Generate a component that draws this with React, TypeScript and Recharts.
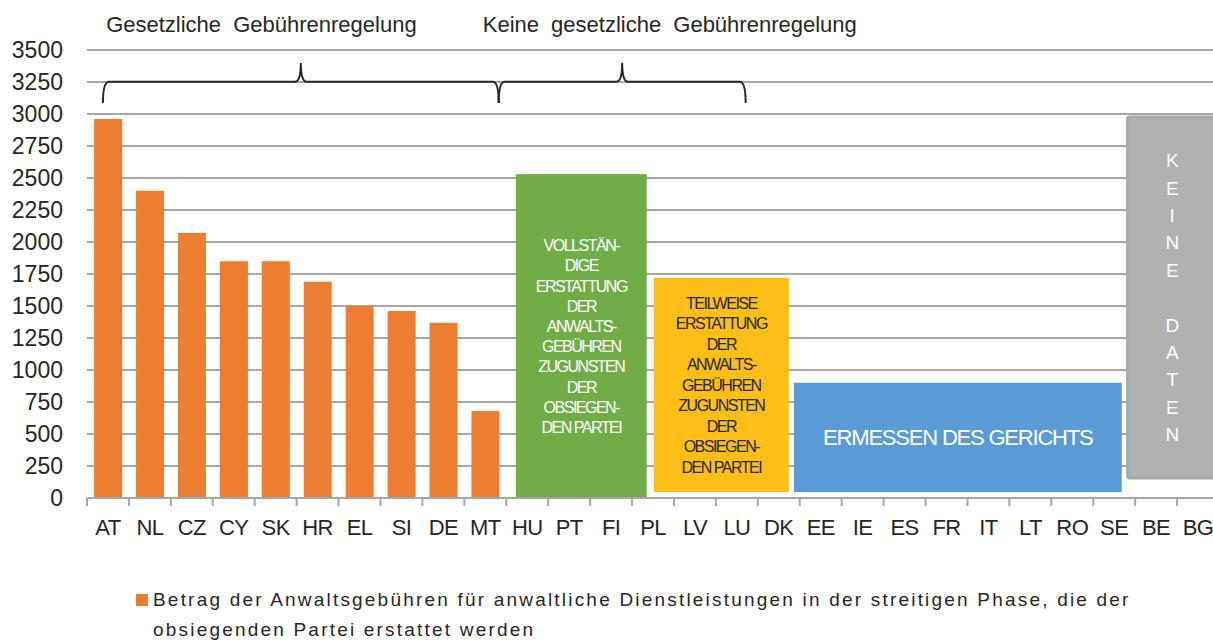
import React from 'react'
import {
  BarChart,
  Bar,
  XAxis,
  YAxis,
  CartesianGrid,
  ReferenceArea,
  Legend,
} from 'recharts'

const COUNTRIES = [
  'AT', 'NL', 'CZ', 'CY', 'SK', 'HR', 'EL', 'SI', 'DE', 'MT',
  'HU', 'PT', 'FI', 'PL', 'LV', 'LU', 'DK', 'EE', 'IE', 'ES',
  'FR', 'IT', 'LT', 'RO', 'SE', 'BE', 'BG',
]

// only the countries with a statutory fee scale have a value
const FEES = [2960, 2400, 2070, 1850, 1850, 1690, 1500, 1460, 1370, 680]

const Y_TICKS = [0, 250, 500, 750, 1000, 1250, 1500, 1750, 2000, 2250, 2500, 2750, 3000, 3250, 3500]

const LEGEND_LINES = [
  'Betrag der Anwaltsgebühren für anwaltliche Dienstleistungen in der streitigen Phase, die der',
  'obsiegenden Partei erstattet werden',
]

const GROUP_TITLES = ['Gesetzliche Gebührenregelung', 'Keine gesetzliche Gebührenregelung']

const GREEN_TEXT = ['VOLLSTÄN-', 'DIGE', 'ERSTATTUNG', 'DER', 'ANWALTS-', 'GEBÜHREN', 'ZUGUNSTEN', 'DER', 'OBSIEGEN-', 'DEN PARTEI']
const YELLOW_TEXT = ['TEILWEISE', 'ERSTATTUNG', 'DER', 'ANWALTS-', 'GEBÜHREN', 'ZUGUNSTEN', 'DER', 'OBSIEGEN-', 'DEN PARTEI']
const BLUE_TEXT = ['ERMESSEN DES GERICHTS']
const GRAY_TEXT = ['K', 'E', 'I', 'N', 'E', '', 'D', 'A', 'T', 'E', 'N']

const rows = COUNTRIES.map((country, i) => ({ country, fee: FEES[i] ?? null }))

const FONT = '"Liberation Sans", Arial, sans-serif'
const ORANGE = '#ed7d31'
const GRID = '#a6a6a6'
const INK = '#262626'

// the helper axis runs over the country index (0..n-1) across the whole plot,
// so a position measured in country slots (0..n) is rescaled onto it
const N = COUNTRIES.length
const slot = (p: number) => (p * (N - 1)) / N

function CountryTick(props: any) {
  const { x, y, payload, width } = props
  const half = payload?.offset || (width ? width / N / 2 : 21)
  return (
    <g>
      <line x1={x - half} x2={x - half} y1={y} y2={y + 8} stroke={GRID} strokeWidth={2} />
      <text
        x={x}
        y={y + 37}
        textAnchor="middle"
        fontFamily={FONT}
        fontSize={22}
        letterSpacing={-0.6}
        fill={INK}
      >
        {payload.value}
      </text>
    </g>
  )
}

function makeBox(lines: string[], fill: string, textColor: string, fontSize: number, lineHeight: number, extra: any = {}) {
  return (props: any) => {
    const { x, y, width, height } = props
    const cx = x + width / 2
    const cy = y + height / 2
    const first = cy - ((lines.length - 1) * lineHeight) / 2
    return (
      <g>
        <rect
          x={x}
          y={y}
          width={width}
          height={height}
          fill={fill}
          stroke={extra.stroke ?? 'none'}
          strokeWidth={extra.strokeWidth ?? 0}
          rx={extra.rx ?? 0}
        />
        <text
          textAnchor="middle"
          fontFamily={FONT}
          fontSize={fontSize}
          letterSpacing={extra.letterSpacing ?? -1.5}
          fill={textColor}
        >
          {lines.map((l, i) => (
            <tspan key={i} x={cx} y={first + i * lineHeight} dy="0.35em">
              {l}
            </tspan>
          ))}
        </text>
      </g>
    )
  }
}

function makeTitle(title: string) {
  return (props: any) => {
    const { x, y, width, height } = props
    return (
      <text
        x={x + width / 2}
        y={y + height / 2}
        dy="0.35em"
        textAnchor="middle"
        fontFamily={FONT}
        fontSize={22}
        wordSpacing={6}
        fill={INK}
      >
        {title}
      </text>
    )
  }
}

function Brace(props: any) {
  const { x, y, width, height } = props
  const left = x
  const right = x + width
  const top = y
  const bottom = y + height
  const mid = y + height * 0.47
  const tip = x + width / 2
  const r = 6
  const d = [
    `M${left},${bottom}`,
    `Q${left},${mid} ${left + r},${mid}`,
    `L${tip - r},${mid}`,
    `Q${tip},${mid} ${tip},${top}`,
    `Q${tip},${mid} ${tip + r},${mid}`,
    `L${right - r},${mid}`,
    `Q${right},${mid} ${right},${bottom}`,
  ].join(' ')
  return <path d={d} fill="none" stroke={INK} strokeWidth={2} />
}

function renderLegend() {
  return (
    <div style={{ position: 'relative', fontFamily: FONT, fontSize: 19, letterSpacing: 2.2, color: INK, lineHeight: '30px' }}>
      <span
        style={{ position: 'absolute', left: 0, top: 9, width: 12, height: 12, background: ORANGE }}
      />
      <div style={{ paddingLeft: 17, whiteSpace: 'nowrap' }}>
        {LEGEND_LINES.map((l, i) => (
          <div key={i}>{l}</div>
        ))}
      </div>
    </div>
  )
}

export default function App() {
  return (
    <div style={{ position: 'absolute', left: 0, top: 0, width: 1213, height: 641, overflow: 'hidden', background: '#fff' }}>
      <BarChart
        width={1225}
        height={641}
        data={rows}
        margin={{ top: 50, right: 6, left: 0, bottom: 103 }}
        barCategoryGap="17%"
      >
        <CartesianGrid vertical={false} stroke={GRID} strokeWidth={2} />
        <XAxis
          dataKey="country"
          interval={0}
          height={40}
          tickLine={false}
          tickSize={0}
          tickMargin={0}
          axisLine={{ stroke: GRID, strokeWidth: 2 }}
          tick={<CountryTick />}
        />
        <XAxis xAxisId="pos" type="number" domain={[0, N - 1]} hide allowDataOverflow />
        <YAxis
          domain={[0, 3500]}
          ticks={Y_TICKS}
          interval={0}
          width={87}
          axisLine={false}
          tickLine={false}
          tickSize={0}
          tickMargin={24}
          tick={{ fontSize: 23, fill: INK, fontFamily: FONT }}
        />

        <ReferenceArea xAxisId="pos" x1={slot(0.5)} x2={slot(7.82)} y1={3640} y2={3760} ifOverflow="visible" shape={makeTitle(GROUP_TITLES[0])} />
        <ReferenceArea xAxisId="pos" x1={slot(9.44)} x2={slot(18.36)} y1={3640} y2={3760} ifOverflow="visible" shape={makeTitle(GROUP_TITLES[1])} />
        <ReferenceArea xAxisId="pos" x1={slot(0.38)} x2={slot(9.82)} y1={3086} y2={3398} ifOverflow="visible" shape={<Brace />} />
        <ReferenceArea xAxisId="pos" x1={slot(9.82)} x2={slot(15.71)} y1={3086} y2={3398} ifOverflow="visible" shape={<Brace />} />

        <ReferenceArea xAxisId="pos" x1={slot(10.23)} x2={slot(13.35)} y1={-5} y2={2530} ifOverflow="visible"
          shape={makeBox(GREEN_TEXT, '#70ad47', '#ffffff', 16, 20.2)} />
        <ReferenceArea xAxisId="pos" x1={slot(13.52)} x2={slot(16.74)} y1={47} y2={1720} ifOverflow="visible"
          shape={makeBox(YELLOW_TEXT, '#fdbf15', INK, 16, 20.5)} />
        <ReferenceArea xAxisId="pos" x1={slot(16.86)} x2={slot(24.68)} y1={47} y2={900} ifOverflow="visible"
          shape={makeBox(BLUE_TEXT, '#5b9bd5', '#ffffff', 22, 24, { letterSpacing: -1.2 })} />
        <ReferenceArea xAxisId="pos" x1={slot(24.82)} x2={slot(26.95)} y1={156} y2={2977} ifOverflow="visible"
          shape={makeBox(GRAY_TEXT, '#b1b1b1', '#ffffff', 19, 27.4, { stroke: '#a8a8a8', strokeWidth: 3, rx: 2, letterSpacing: 0 })} />

        <Bar
          dataKey="fee"
          name={LEGEND_LINES.join(' ')}
          fill={ORANGE}
          isAnimationActive={false}
        />
        <Legend
          layout="horizontal"
          verticalAlign="middle"
          align="center"
          wrapperStyle={{ left: 136, top: 585, width: 1060, height: 60 }}
          content={renderLegend}
        />
      </BarChart>
    </div>
  )
}
